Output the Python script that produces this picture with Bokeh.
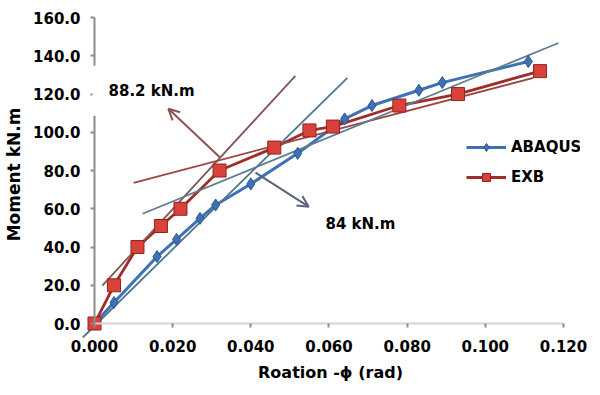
from bokeh.plotting import figure
from bokeh.models import (Range1d, FixedTicker, NumeralTickFormatter, Arrow, OpenHead,
                          Label, Legend, LinearAxis)
from bokeh.embed import file_html
from bokeh.resources import INLINE

# ---- data ----
abaqus_x = [0.0, 0.005, 0.016, 0.021, 0.027, 0.031, 0.040, 0.052, 0.064, 0.071, 0.083, 0.089, 0.111]
abaqus_y = [0.0, 11, 35, 44, 55, 62, 73, 89, 107, 114, 122, 126, 137]

exb_x = [0.0, 0.005, 0.011, 0.017, 0.022, 0.032, 0.046, 0.055, 0.061, 0.078, 0.093, 0.114]
exb_y = [0.0, 20, 40, 51, 60, 80, 92, 101, 103, 114, 120, 132]

# bilinear tangent lines
exb_init_x = [0.002, 0.0514]
exb_init_y = [19.8, 129.5]
exb_post_x = [0.010, 0.1123]
exb_post_y = [73.6, 128.5]
abq_init_x = [-0.003, 0.0647]
abq_init_y = [-7.3, 128.5]
abq_post_x = [0.0123, 0.1187]
abq_post_y = [57.4, 146.7]

# yield-point arrows (start -> end)
arrow_exb = dict(x_start=0.0322, y_start=86.7, x_end=0.0189, y_end=112.3)
arrow_abq = dict(x_start=0.0412, y_start=78.9, x_end=0.0548, y_end=61.1)
label_exb = "88.2 kN.m"
label_abq = "84 kN.m"

x_ticks = [0.0, 0.02, 0.04, 0.06, 0.08, 0.10, 0.12]
y_ticks = [0, 20, 40, 60, 80, 100, 120, 140, 160]

FONT = "DejaVu Sans"

p = figure(width=590, height=390, output_backend="svg", toolbar_location=None,
           x_range=Range1d(-0.00358, 0.12435), y_range=Range1d(-7.83, 163.7),
           min_border_left=80, min_border_right=10, min_border_top=10, min_border_bottom=52,
           title=None)
p.outline_line_color = None
p.grid.visible = False
p.background_fill_color = "white"

# label-only axes at the frame edges
xa = p.xaxis[0]
xa.ticker = FixedTicker(ticks=x_ticks)
xa.formatter = NumeralTickFormatter(format="0.000")
xa.axis_line_color = None
xa.major_tick_line_color = None
xa.minor_tick_line_color = None
xa.major_tick_out = 0
xa.major_tick_in = 0
xa.major_label_standoff = 1
xa.major_label_text_font = FONT
xa.major_label_text_font_style = "bold"
xa.major_label_text_font_size = "15px"
xa.major_label_text_color = "black"
xa.axis_label = "Roation -\u03d5 (rad)"
xa.axis_label_text_font = FONT
xa.axis_label_text_font_style = "bold"
xa.axis_label_text_font_size = "16px"
xa.axis_label_text_color = "black"
xa.axis_label_standoff = 8

ya = p.yaxis[0]
ya.ticker = FixedTicker(ticks=y_ticks)
ya.formatter = NumeralTickFormatter(format="0.0")
ya.axis_line_color = None
ya.major_tick_line_color = None
ya.minor_tick_line_color = None
ya.major_tick_out = 0
ya.major_tick_in = 0
ya.major_label_standoff = 0
ya.major_label_text_font = FONT
ya.major_label_text_font_style = "bold"
ya.major_label_text_font_size = "15px"
ya.major_label_text_color = "black"
ya.axis_label = "Moment kN.m"
ya.axis_label_text_font = FONT
ya.axis_label_text_font_style = "bold"
ya.axis_label_text_font_size = "17px"
ya.axis_label_text_color = "black"
ya.axis_label_standoff = 6

# axis lines + ticks through the origin
xline = LinearAxis(fixed_location=0, bounds=(0, 0.12), ticker=FixedTicker(ticks=x_ticks),
                   axis_line_color="#d4d4d4", axis_line_width=2,
                   major_tick_line_color="#8a8a8a", major_tick_line_width=2,
                   major_tick_out=4, major_tick_in=0, minor_tick_line_color=None,
                   major_label_text_alpha=0, major_label_text_font_size="1px")
yline = LinearAxis(fixed_location=0, bounds=(0, 160), ticker=FixedTicker(ticks=y_ticks),
                   axis_line_color="#8c8c8c", axis_line_width=2,
                   major_tick_line_color="#8c8c8c", major_tick_line_width=2,
                   major_tick_out=4, major_tick_in=0, minor_tick_line_color=None,
                   major_label_text_alpha=0, major_label_text_font_size="1px")
p.add_layout(xline, "below")
p.add_layout(yline, "left")

# series lines
BLUE = "#3f72b5"
BLUE_DARK = "#2a5490"
RED = "#d9413b"
RED_DARK = "#8f2320"

l_abq = p.line(abaqus_x, abaqus_y, line_color=BLUE, line_width=3)
l_exb = p.line(exb_x, exb_y, line_color="#a02c28", line_width=2.8)

# tangent lines
p.line(exb_init_x, exb_init_y, line_color="#7f5656", line_width=1.8)
p.line(exb_post_x, exb_post_y, line_color="#9a4540", line_width=1.8)
p.line(abq_init_x, abq_init_y, line_color="#4e7790", line_width=1.8)
p.line(abq_post_x, abq_post_y, line_color="#5f7d90", line_width=1.8)

# markers
m_abq = p.scatter(abaqus_x, abaqus_y, marker="diamond", size=12, fill_color=BLUE,
                  line_color=BLUE_DARK, line_width=1)
m_exb = p.scatter(exb_x, exb_y, marker="square", size=13, fill_color=RED,
                  line_color=RED_DARK, line_width=1)

# labels and arrows
lab1 = Label(x=-0.0005, y=121.7, text=label_exb, text_font=FONT, text_font_style="bold",
             text_font_size="15px", text_baseline="middle", text_align="left",
             text_color="black", background_fill_color="white", padding=16)
lab2 = Label(x=0.0591, y=52.2, text=label_abq, text_font=FONT, text_font_style="bold",
             text_font_size="15px", text_baseline="middle", text_align="left",
             text_color="black")
p.add_layout(lab1)
p.add_layout(lab2)

p.add_layout(Arrow(end=OpenHead(size=11, line_color="#8e5252", line_width=2),
                   line_color="#8e5252", line_width=2, **arrow_exb))
p.add_layout(Arrow(end=OpenHead(size=11, line_color="#5b6478", line_width=2),
                   line_color="#5b6478", line_width=2, **arrow_abq))

legend = Legend(items=[("ABAQUS", [l_abq, m_abq]), ("EXB", [l_exb, m_exb])],
                location=(386, 151), glyph_width=40, glyph_height=20,
                label_height=20, spacing=10, padding=0, margin=0,
                label_standoff=5, border_line_color=None,
                background_fill_alpha=0, label_text_font=FONT,
                label_text_font_style="bold", label_text_font_size="15px",
                label_text_color="black")
p.add_layout(legend)

open("out.html", "w").write(file_html(p, INLINE))
